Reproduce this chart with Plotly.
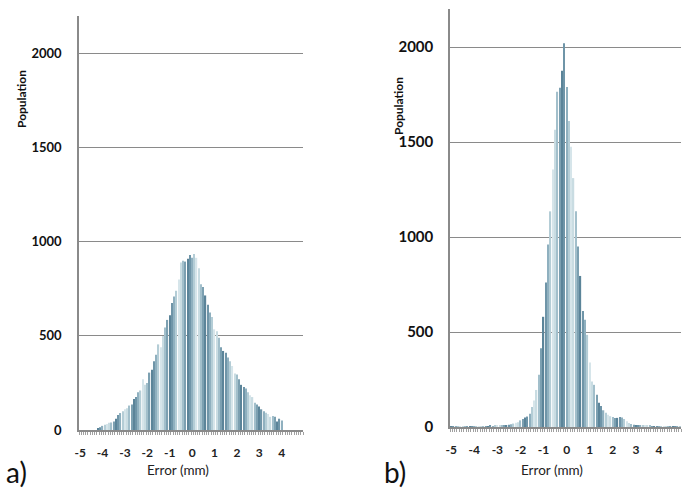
import plotly.graph_objects as go

# ---- data ----
bin_centers = [round(-5 + 0.1 * i, 1) for i in range(100)]

pop_a = [0, 0, 0, 0, 0, 0, 0, 0, 8, 15,
         22, 28, 32, 38, 40, 45, 60, 80, 90, 100,
         110, 115, 130, 135, 165, 175, 200, 210, 270, 240,
         250, 305, 320, 365, 400, 455, 440, 500, 545, 585,
         610, 675, 710, 740, 800, 890, 900, 895, 910, 930,
         915, 935, 915, 860, 775, 760, 715, 665, 625, 600,
         535, 525, 490, 440, 420, 410, 385, 365, 340, 300,
         295, 270, 240, 228, 220, 200, 185, 175, 145, 135,
         125, 110, 100, 92, 85, 70, 75, 70, 45, 60,
         50, 0, 0, 0, 0, 0, 0, 0, 0, 0]

pop_b = [2, 2, 2, 2, 3, 2, 3, 3, 3, 4,
         4, 3, 4, 5, 4, 5, 5, 6, 5, 6,
         6, 7, 8, 9, 10, 12, 14, 18, 22, 25,
         35, 42, 50, 55, 70, 105, 140, 195, 275, 415,
         580, 760, 960, 1135, 1355, 1565, 1765, 1785, 1875, 2020,
         1790, 1610, 1475, 1310, 1135, 950, 795, 610, 565, 485,
         340, 240, 222, 170, 128, 110, 88, 75, 65, 57,
         53, 47, 48, 53, 50, 42, 30, 21, 16, 12,
         10, 8, 8, 8, 7, 7, 6, 5, 5, 4,
         4, 4, 3, 3, 3, 3, 2, 2, 2, 2]

x_tick_vals = [-5, -4, -3, -2, -1, 0, 1, 2, 3, 4]
x_tick_text = ["-5", "-4", "-3", "-2", "-1", "0", "1", "2", "3", "4"]
y_tick_vals = [0, 500, 1000, 1500, 2000]

# ---- style ----
shades = ["#5b8499", "#6f95a8", "#8fb0bf", "#b4cdd6", "#d6e5ea", "#c9dce2", "#a2bfcb", "#7ca0b1"]
bar_colors = [shades[i % len(shades)] for i in range(len(bin_centers))]
FONT = "Lato"
GRID = "#8a8a8a"
W, H = 686, 491


def px_x(p):
    return p / W


def px_y(p):
    return (H - p) / H


fig = go.Figure()
fig.add_trace(go.Bar(x=bin_centers, y=pop_a, marker=dict(color=bar_colors, line=dict(width=0)),
                     xaxis="x", yaxis="y", showlegend=False))
fig.add_trace(go.Bar(x=bin_centers, y=pop_b, marker=dict(color=bar_colors, line=dict(width=0)),
                     xaxis="x2", yaxis="y2", showlegend=False))


def xaxis_cfg(domain, anchor):
    return dict(domain=domain, anchor=anchor, range=[-5.05, 4.95], automargin=False,
                tickmode="array", tickvals=x_tick_vals, ticktext=x_tick_text,
                ticks="", showgrid=False, zeroline=False,
                showline=True, linecolor=GRID, linewidth=1.5,
                minor=dict(ticks="outside", tick0=-5.05, dtick=0.1, ticklen=3,
                           tickcolor="#a0a0a0", tickwidth=1, showgrid=False),
                ticklabelstandoff=11,
                tickfont=dict(family=FONT, size=12, color="#222222", weight="bold"))


def yaxis_cfg(domain, anchor, size, standoff):
    return dict(domain=domain, anchor=anchor, range=[0, 2200], automargin=False,
                tickmode="array", tickvals=y_tick_vals, ticks="",
                showgrid=True, gridcolor=GRID, gridwidth=1.4,
                zeroline=False, showline=True, linecolor=GRID, linewidth=1.5,
                ticklabelstandoff=standoff,
                tickfont=dict(family=FONT, size=size, color="#111111", weight="bold"))


fig.update_layout(
    width=W, height=H,
    margin=dict(l=0, r=0, t=0, b=0, autoexpand=False),
    paper_bgcolor="white", plot_bgcolor="white",
    bargap=0.45,
    xaxis=xaxis_cfg([px_x(79), px_x(303)], "y"),
    yaxis=yaxis_cfg([px_y(430), px_y(16)], "x", 13, 13),
    xaxis2=xaxis_cfg([px_x(450), px_x(681)], "y2"),
    yaxis2=yaxis_cfg([px_y(427), px_y(9)], "x2", 15, 12),
)

annos = [
    dict(text="Population", x=px_x(22), y=px_y(99), textangle=-90,
         font=dict(family=FONT, size=12, color="#111111", weight="bold")),
    dict(text="Population", x=px_x(398), y=px_y(106), textangle=-90,
         font=dict(family=FONT, size=12, color="#111111", weight="bold")),
    dict(text="Error (mm)", x=px_x(178), y=px_y(470),
         font=dict(family=FONT, size=13.5, color="#222222")),
    dict(text="Error (mm)", x=px_x(552), y=px_y(470),
         font=dict(family=FONT, size=13.5, color="#222222")),
    dict(text="a)", x=px_x(16), y=px_y(472),
         font=dict(family=FONT, size=28, color="#111111")),
    dict(text="b)", x=px_x(395), y=px_y(472),
         font=dict(family=FONT, size=28, color="#111111")),
]
for a in annos:
    a.update(xref="paper", yref="paper", showarrow=False, xanchor="center", yanchor="middle")
fig.update_layout(annotations=annos)

fig.write_html("out.html", config={"displayModeBar": False},
               post_script="document.body.style.margin='0';document.body.style.overflow='hidden';")
